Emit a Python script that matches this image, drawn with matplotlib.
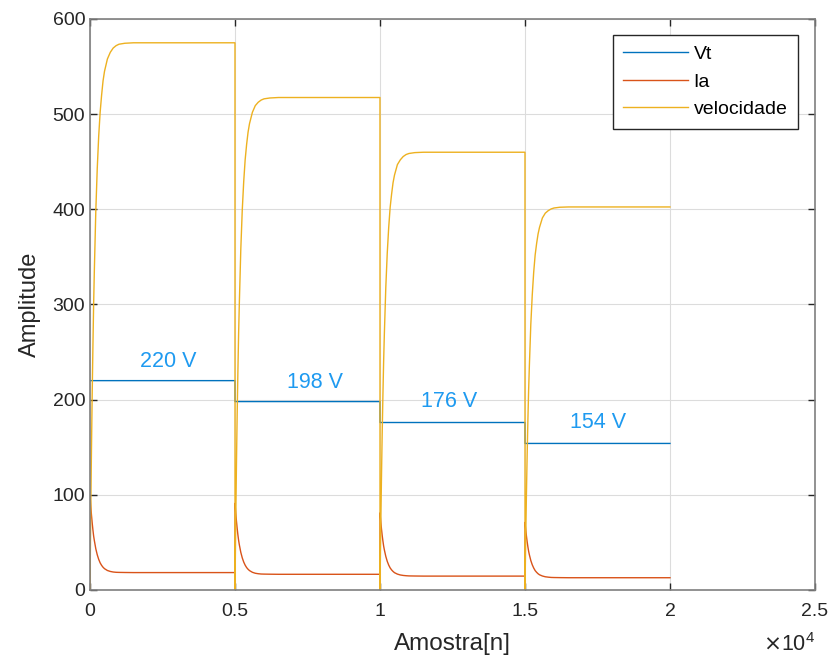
import matplotlib
matplotlib.use("Agg")
import matplotlib.pyplot as plt
import numpy as np

plt.rcParams['font.family'] = ['Liberation Sans', 'DejaVu Sans']

# ---- data ----
seg_starts = [0, 5000, 10000, 15000]
seg_end = 20000
vt_levels = [220, 198, 176, 154]

offsets = [0, 1, 10, 25, 50, 75, 100, 125, 150, 200, 250, 300, 350, 400, 450, 500, 600, 700, 800, 900, 1000, 1200, 1500, 2500, 4999]

vel_seg1 = [0, 3, 33, 79, 146, 205, 255, 300, 336, 398, 443, 477, 502, 520, 535, 545, 558, 565, 569.5, 572, 573.5, 574.5, 575, 575, 575]
vel_seg2 = [0, 3, 30, 71, 132, 185, 230, 270, 302, 358, 399, 429, 452, 468, 481, 490, 502, 509, 512.5, 514.8, 516.1, 517, 517.5, 517.5, 517.5]
vel_seg3 = [0, 3, 26, 63, 117, 164, 204, 240, 269, 318, 354, 381, 402, 416, 428, 436, 447, 452, 455.5, 457.6, 458.7, 459.6, 460, 460, 460]
vel_seg4 = [0, 2, 23, 55, 102, 143, 179, 210, 235, 279, 310, 334, 352, 364, 374, 381, 391, 396, 398.6, 400.4, 401.4, 402.2, 402.5, 402.5, 402.5]

ia_seg1 = [0, 99.8, 95.2, 88.6, 79.0, 70.6, 63.3, 56.8, 51.9, 43.3, 37.0, 32.2, 28.5, 25.9, 23.9, 22.4, 20.5, 19.5, 18.9, 18.6, 18.5, 18.4, 18.3, 18.3, 18.3]
ia_seg2 = [0, 91.1, 87.2, 81.1, 72.3, 64.6, 57.9, 52.1, 47.4, 39.6, 33.8, 29.4, 26.1, 23.6, 21.8, 20.4, 18.6, 17.6, 17.1, 16.8, 16.7, 16.6, 16.5, 16.5, 16.5]
ia_seg3 = [0, 81.1, 77.7, 72.3, 64.4, 57.5, 51.6, 46.3, 42.2, 35.3, 30.1, 26.2, 23.2, 21.1, 19.5, 18.2, 16.7, 15.8, 15.3, 15.0, 14.8, 14.7, 14.6, 14.6, 14.6]
ia_seg4 = [0, 71.1, 68.1, 63.4, 56.5, 50.5, 45.3, 40.7, 37.1, 31.0, 26.5, 23.1, 20.4, 18.6, 17.1, 16.0, 14.7, 13.9, 13.5, 13.2, 13.1, 13.0, 12.9, 12.9, 12.9]

ann_labels = ['220 V', '198 V', '176 V', '154 V']
ann_x = [2690, 7760, 12380, 17517]
ann_y = [240, 218, 198, 176]

xticks = [0, 5000, 10000, 15000, 20000, 25000]
xtick_labels = ['0', '0.5', '1', '1.5', '2', '2.5']
yticks = [0, 100, 200, 300, 400, 500, 600]

# ---- build series ----
vel_segs = [vel_seg1, vel_seg2, vel_seg3, vel_seg4]
ia_segs = [ia_seg1, ia_seg2, ia_seg3, ia_seg4]

x_all, vel_all, ia_all = [], [], []
for s, v, i in zip(seg_starts, vel_segs, ia_segs):
    x_all += [s + o for o in offsets]
    vel_all += v
    ia_all += i

vt_x, vt_y = [], []
for k, s in enumerate(seg_starts):
    e = seg_starts[k + 1] if k + 1 < len(seg_starts) else seg_end
    vt_x += [s, e - 1]
    vt_y += [vt_levels[k], vt_levels[k]]

# ---- plot ----
fig = plt.figure(figsize=(8.32, 6.59), dpi=100)
ax = fig.add_axes([90 / 832, 1 - 590 / 659, 725 / 832, 571 / 659])

c_vt = '#0072BD'
c_ia = '#D95319'
c_vel = '#EDB120'
lw = 1.0
ax.plot(vt_x, vt_y, color=c_vt, lw=lw, label='Vt')
ax.plot(x_all, ia_all, color=c_ia, lw=lw, label='Ia')
ax.plot(x_all, vel_all, color=c_vel, lw=lw, label='velocidade')

for lab, xx, yy in zip(ann_labels, ann_x, ann_y):
    ax.text(xx, yy, lab, color='#1E9AF0', fontsize=15.5, ha='center', va='center')

ax.set_xlim(0, 25000)
ax.set_ylim(0, 600)
ax.set_xticks(xticks)
ax.set_xticklabels(xtick_labels)
ax.set_yticks(yticks)

axcol = '#262626'
for sp in ax.spines.values():
    sp.set_color('#7f7f7f')
    sp.set_linewidth(1.2)
ax.tick_params(direction='in', length=5, width=1.0, colors=axcol, labelsize=14,
               top=True, right=True, labelcolor=axcol)
ax.tick_params(axis='x', pad=9)
ax.grid(True, color='#dcdcdc', lw=0.8)
ax.set_axisbelow(True)

ax.set_xlabel('Amostra[n]', fontsize=17.5, color=axcol, labelpad=10)
ax.set_ylabel('Amplitude', fontsize=17, color=axcol, labelpad=8)

ax.text(1.0, -0.095, r'$\times\mathregular{10^{4}}$', transform=ax.transAxes,
        ha='right', va='center', fontsize=15.5, color=axcol)

leg = ax.legend(loc='upper right', bbox_to_anchor=(0.9766, 0.972), borderaxespad=0,
                fontsize=14, fancybox=False, framealpha=1, edgecolor='#262626',
                handlelength=3.3, handletextpad=0.3, labelspacing=0.5,
                borderpad=0.55)
leg.get_frame().set_linewidth(1.0)

fig.savefig('out.png', dpi=100)
